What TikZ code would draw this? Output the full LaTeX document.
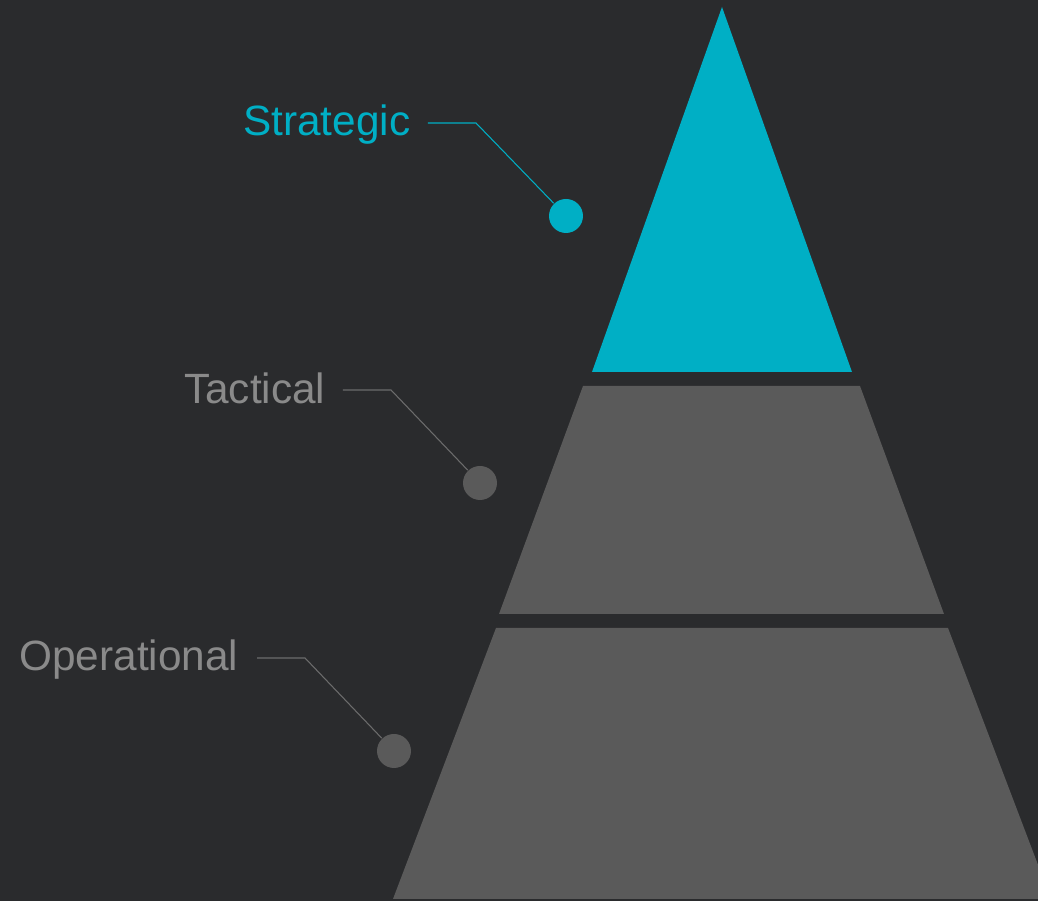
\documentclass[tikz,border=0pt]{standalone}
\usepackage{fontspec}
\setmainfont{Liberation Sans}
\usepackage{tikz}
\usetikzlibrary{positioning}
\definecolor{bgdark}{HTML}{2A2B2D}
\definecolor{tealtop}{HTML}{00AFC5}
\definecolor{grayband}{HTML}{5A5A5A}
\definecolor{graytext}{HTML}{8A8A8A}
\definecolor{grayline}{HTML}{6C6C6C}
\tikzset{
  lvl/.style={font=\fontsize{12.05}{14}\selectfont,inner sep=0pt,anchor=base east},
  dot/.style={circle,inner sep=0pt,minimum size=0.34cm},
  lead/.style={line width=0.3pt}
}
\begin{document}
\begin{tikzpicture}
\fill[bgdark] (0,0) rectangle (10.38,9.01);
\useasboundingbox (0,0) rectangle (10.38,9.01);
\begin{scope}
\clip (0,0) rectangle (10.38,9.01);
\fill[tealtop] (7.22,8.94) -- (8.52,5.29) -- (5.92,5.29) -- cycle;
\fill[grayband] (5.83,5.15) -- (8.60,5.15) -- (9.44,2.87) -- (4.99,2.87) -- cycle;
\fill[grayband] (4.96,2.73) -- (9.48,2.73) -- (10.51,0.02) -- (3.93,0.02) -- cycle;
\end{scope}

% strategic
\coordinate (s1) at (4.28,7.78);
\coordinate (s2) at (4.76,7.78);
\node[dot,fill=tealtop] (sdot) at (5.66,6.85) {};
\node[lvl,text=tealtop] (strat) at (4.11,7.65) {Strategic};
\draw[lead,tealtop] (s1) -- (s2) -- (sdot);

% tactical
\coordinate (t1) at (3.43,5.11);
\coordinate (t2) at (3.91,5.11);
\node[dot,fill=grayband] (tdot) at (4.80,4.18) {};
\node[lvl,text=graytext] (tact) at (3.26,4.97) {Tactical};
\draw[lead,grayline] (t1) -- (t2) -- (tdot);

% operational
\coordinate (o1) at (2.57,2.43);
\coordinate (o2) at (3.05,2.43);
\node[dot,fill=grayband] (odot) at (3.94,1.50) {};
\node[lvl,text=graytext] (oper) at (2.39,2.30) {Operational};
\draw[lead,grayline] (o1) -- (o2) -- (odot);
\end{tikzpicture}
\end{document}
